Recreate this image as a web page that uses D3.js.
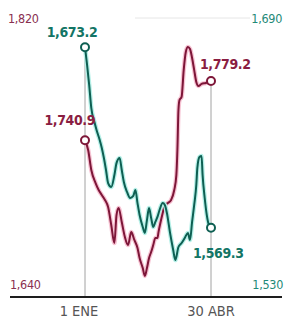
<!DOCTYPE html>
<html>
<head>
<meta charset="utf-8">
<script src="https://cdn.jsdelivr.net/npm/d3@7"></script>
<style>
  body { margin: 0; background: #fff; }
  text { font-family: "DejaVu Sans Condensed", "Liberation Sans", sans-serif; }
</style>
</head>
<body>
<div id="wrapper"></div>
<script>
// data: days since 1 ENE, values
const redDays = [0, 3, 6, 10, 13, 16, 19, 22, 25, 28, 30, 32, 35, 38, 41, 44, 47, 50, 52, 55, 57, 59, 61, 63, 65, 67, 69, 70, 72, 74, 76, 79, 82, 85, 87, 88, 89, 90, 92, 94, 96, 98, 100, 102, 104, 106, 108, 111, 115, 120];
const redValues = [1740.9, 1734.5, 1721.6, 1713.2, 1708.6, 1705.4, 1702.2, 1697.6, 1686.0, 1674.3, 1692.4, 1697.0, 1687.9, 1678.2, 1673.0, 1681.4, 1676.3, 1671.1, 1664.6, 1658.1, 1653.0, 1658.1, 1664.6, 1668.5, 1673.0, 1677.6, 1677.6, 1681.4, 1687.9, 1693.7, 1698.9, 1700.2, 1702.2, 1708.6, 1718.3, 1734.5, 1760.4, 1766.9, 1768.9, 1786.3, 1798.0, 1801.2, 1799.9, 1794.1, 1786.3, 1778.6, 1776.0, 1777.3, 1777.9, 1779.2];

const tealDays = [0, 2, 4, 6, 9, 11, 14, 16, 18, 20, 22, 25, 28, 30, 33, 35, 37, 40, 43, 46, 48, 50, 52, 55, 57, 59, 61, 63, 65, 67, 69, 71, 74, 76, 78, 81, 84, 86, 89, 92, 95, 98, 100, 102, 104, 106, 107, 109, 111, 112, 114, 116, 118, 120];
const tealValues = [1673.2, 1662.9, 1651.4, 1638.2, 1630.1, 1625.5, 1619.8, 1615.2, 1609.4, 1602.5, 1595.0, 1592.7, 1599.6, 1606.5, 1609.4, 1602.5, 1595.6, 1589.9, 1586.4, 1587.6, 1591.0, 1583.5, 1576.6, 1569.7, 1566.3, 1573.7, 1580.6, 1574.9, 1569.7, 1572.6, 1575.5, 1579.5, 1583.5, 1582.4, 1577.8, 1566.3, 1556.5, 1550.7, 1558.2, 1560.5, 1563.4, 1566.3, 1562.2, 1572.6, 1582.4, 1593.9, 1603.7, 1610.0, 1610.6, 1599.6, 1586.4, 1576.6, 1570.9, 1569.3];

const leftDomain = [1640, 1820];
const rightDomain = [1530, 1690];
const tickDays = [0, 120];
const tickLabels = ["1 ENE", "30 ABR"];

const start = new Date(2020, 0, 1);
const toDate = d => d3.timeDay.offset(start, d);
const red = redDays.map((d, i) => ({ date: toDate(d), value: redValues[i] }));
const teal = tealDays.map((d, i) => ({ date: toDate(d), value: tealValues[i] }));

const width = 286, height = 322;
const dims = { left: 10, right: 282, top: 18, bottom: 296 };

const svg = d3.select("#wrapper").append("svg")
  .attr("width", width)
  .attr("height", height);

const xScale = d3.scaleTime()
  .domain([toDate(0), toDate(120)])
  .range([85, 211]);
const yLeft = d3.scaleLinear().domain(leftDomain).range([dims.bottom, dims.top]);
const yRight = d3.scaleLinear().domain(rightDomain).range([dims.bottom, dims.top]);

const redColor = "#7d1638", redHalo = "#f7c3d3", redText = "#8a1d42";
const tealColor = "#0e5f52", tealHalo = "#b6f0e8", tealText = "#137565";

// faint top grid line
svg.append("line")
  .attr("x1", 135).attr("x2", 250)
  .attr("y1", yRight(rightDomain[1])).attr("y2", yRight(rightDomain[1]))
  .attr("stroke", "#e6e6e6").attr("stroke-width", 1);

// vertical date lines
svg.append("line")
  .attr("x1", xScale(toDate(tickDays[0]))).attr("x2", xScale(toDate(tickDays[0])))
  .attr("y1", yRight(tealValues[0]) + 5).attr("y2", dims.bottom)
  .attr("stroke", "#8a8a8a").attr("stroke-width", 0.8);
svg.append("line")
  .attr("x1", xScale(toDate(tickDays[1]))).attr("x2", xScale(toDate(tickDays[1])))
  .attr("y1", yLeft(redValues[redValues.length - 1]) + 5).attr("y2", dims.bottom)
  .attr("stroke", "#8a8a8a").attr("stroke-width", 0.8);

const lineRed = d3.line().x(d => xScale(d.date)).y(d => yLeft(d.value)).curve(d3.curveMonotoneX);
const lineTeal = d3.line().x(d => xScale(d.date)).y(d => yRight(d.value)).curve(d3.curveMonotoneX);

// red line with halo
svg.append("path").datum(red).attr("d", lineRed)
  .attr("fill", "none").attr("stroke", redHalo).attr("stroke-width", 4.5).attr("stroke-linejoin", "round");
svg.append("path").datum(red).attr("d", lineRed)
  .attr("fill", "none").attr("stroke", redColor).attr("stroke-width", 2).attr("stroke-linejoin", "round");

// teal line with halo
svg.append("path").datum(teal).attr("d", lineTeal)
  .attr("fill", "none").attr("stroke", tealHalo).attr("stroke-width", 4.5).attr("stroke-linejoin", "round");
svg.append("path").datum(teal).attr("d", lineTeal)
  .attr("fill", "none").attr("stroke", tealColor).attr("stroke-width", 2).attr("stroke-linejoin", "round");

// end markers
const markers = [
  { d: red[0], y: yLeft, color: redColor },
  { d: red[red.length - 1], y: yLeft, color: redColor },
  { d: teal[0], y: yRight, color: tealColor },
  { d: teal[teal.length - 1], y: yRight, color: tealColor },
];
svg.selectAll(".marker").data(markers).enter().append("circle")
  .attr("cx", m => xScale(m.d.date))
  .attr("cy", m => m.y(m.d.value))
  .attr("r", 4)
  .attr("fill", "#fff")
  .attr("stroke", m => m.color)
  .attr("stroke-width", 2);

// value labels
const fmt = d3.format(",.1f");
const valueLabel = (x, y, text, color, anchor) => svg.append("text")
  .attr("x", x).attr("y", y)
  .attr("text-anchor", anchor)
  .attr("fill", color)
  .style("font-size", "14px")
  .style("font-weight", "bold")
  .style("letter-spacing", "-0.4px")
  .text(text);
valueLabel(xScale(teal[0].date) - 13, yRight(teal[0].value) - 10, fmt(teal[0].value), tealText, "middle");
valueLabel(xScale(red[0].date) + 10, yLeft(red[0].value) - 15, fmt(red[0].value), redText, "end");
valueLabel(xScale(red[red.length - 1].date) - 11, yLeft(red[red.length - 1].value) - 12, fmt(red[red.length - 1].value), redText, "start");
valueLabel(xScale(teal[teal.length - 1].date) - 18, yRight(teal[teal.length - 1].value) + 30, fmt(teal[teal.length - 1].value), tealText, "start");

// axis labels
const axisFmt = d3.format(",");
const axisLabel = (x, y, text, color, anchor) => svg.append("text")
  .attr("x", x).attr("y", y)
  .attr("text-anchor", anchor)
  .attr("fill", color)
  .style("font-size", "12.5px")
  .style("letter-spacing", "-0.3px")
  .text(text);
axisLabel(8, yLeft(leftDomain[1]) + 5, axisFmt(leftDomain[1]), "#8a3050", "start");
axisLabel(10, dims.bottom - 7, axisFmt(leftDomain[0]), "#8a3050", "start");
axisLabel(282, yRight(rightDomain[1]) + 5, axisFmt(rightDomain[1]), "#1f8a78", "end");
axisLabel(283, dims.bottom - 7, axisFmt(rightDomain[0]), "#1f8a78", "end");

// baseline
svg.append("line")
  .attr("x1", dims.left).attr("x2", dims.right)
  .attr("y1", dims.bottom + 1).attr("y2", dims.bottom + 1)
  .attr("stroke", "#1e1e1e").attr("stroke-width", 2);

// x tick labels
svg.selectAll(".tick-label").data(tickDays).enter().append("text")
  .attr("x", d => xScale(toDate(d)))
  .attr("dx", (d, i) => i === 0 ? -6 : 0)
  .attr("y", 316)
  .attr("text-anchor", "middle")
  .attr("fill", "#555")
  .style("font-size", "14.5px")
  .text((d, i) => tickLabels[i]);
</script>
</body>
</html>
